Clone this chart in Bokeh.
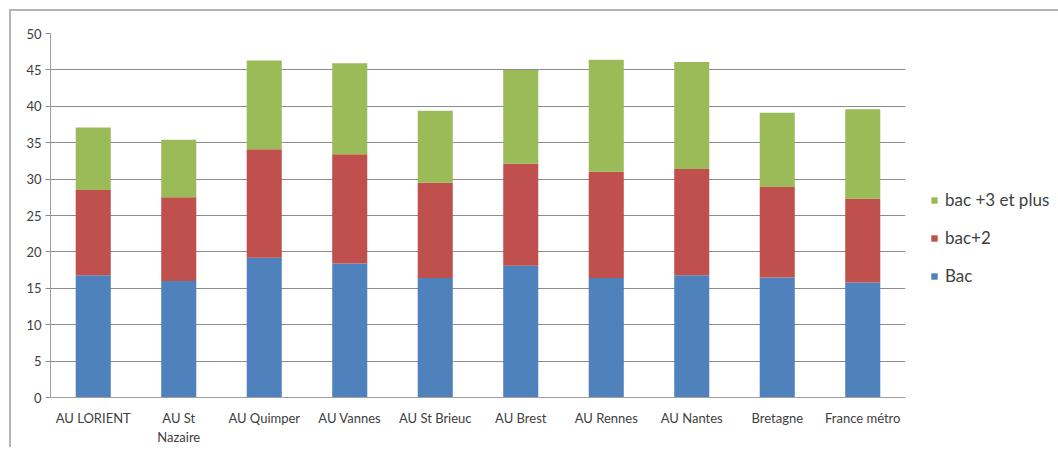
from bokeh.plotting import figure
from bokeh.models import Legend, LegendItem, Range1d, FactorRange, ColumnDataSource, SingleIntervalTicker
from bokeh.embed import file_html
from bokeh.resources import INLINE

categories = ["AU LORIENT", "AU St\nNazaire", "AU Quimper", "AU Vannes", "AU St Brieuc",
              "AU Brest", "AU Rennes", "AU Nantes", "Bretagne", "France métro"]
bac = [16.8, 16.0, 19.2, 18.4, 16.4, 18.1, 16.4, 16.8, 16.5, 15.8]
bac2 = [11.7, 11.5, 14.9, 15.0, 13.1, 14.0, 14.6, 14.6, 12.4, 11.5]
bac3 = [8.6, 7.9, 12.2, 12.5, 9.9, 12.9, 15.4, 14.7, 10.2, 12.3]
series_names = ["Bac", "bac+2", "bac +3 et plus"]
colors = ["#4F81BD", "#C0504D", "#9BBB59"]

source = ColumnDataSource(data=dict(cat=categories, Bac=bac, bac2=bac2, bac3=bac3))

p = figure(x_range=FactorRange(*categories), y_range=Range1d(0, 50),
           frame_width=855, frame_height=364,
           min_border_left=39, min_border_top=22, min_border_bottom=40, min_border_right=5,
           output_backend="svg", toolbar_location=None)

renderers = p.vbar_stack(["Bac", "bac2", "bac3"], x="cat", width=0.41, color=colors,
                         line_color=None, source=source)

p.outline_line_color = None
p.xgrid.grid_line_color = None
p.ygrid.grid_line_color = "#8c8c8c"
p.ygrid.grid_line_width = 1

p.yaxis.ticker = SingleIntervalTicker(interval=5)
p.yaxis.minor_tick_line_color = None
p.yaxis.major_tick_out = 5
p.yaxis.major_tick_in = 0
p.yaxis.major_tick_line_color = "#8c8c8c"
p.yaxis.axis_line_color = "#a0a0a0"
p.yaxis.major_label_standoff = 4

p.xaxis.major_tick_line_color = None
p.xaxis.minor_tick_line_color = None
p.xaxis.axis_line_color = "#a0a0a0"
p.xaxis.major_label_standoff = 6

for ax in (p.xaxis, p.yaxis):
    ax.major_label_text_font = "Lato"
    ax.major_label_text_font_size = "13px"
    ax.major_label_text_color = "#404040"

items = [LegendItem(label=series_names[i], renderers=[renderers[i]]) for i in (2, 1, 0)]
legend = Legend(items=items, location=(25, 111), orientation="vertical",
                glyph_width=8, glyph_height=8, label_height=20, spacing=17,
                padding=0, margin=0, border_line_color=None, background_fill_alpha=0,
                label_text_font="Lato", label_text_font_size="17px", label_text_color="#404040",
                label_standoff=7)
p.add_layout(legend, "right")

p.styles = {"border-top": "2px solid #b4b4b4", "border-left": "2px solid #b4b4b4",
            "margin-left": "9px", "margin-top": "9px"}

open("out.html", "w").write(file_html(p, INLINE))
